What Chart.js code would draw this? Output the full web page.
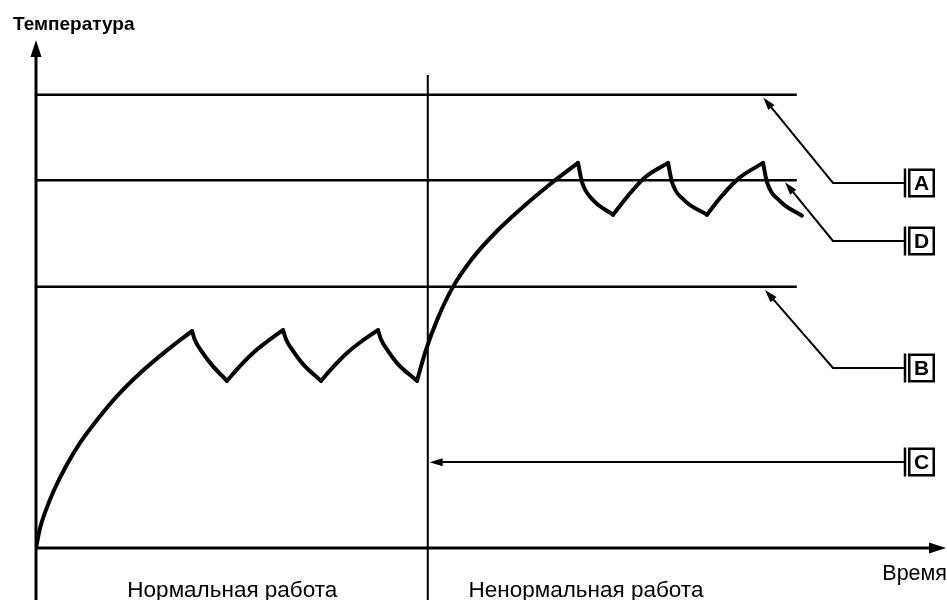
<!DOCTYPE html>
<html>
<head>
<meta charset="utf-8">
<script src="https://cdn.jsdelivr.net/npm/chart.js@4"></script>
<style>
  html, body { margin: 0; padding: 0; background: #fff; }
  #wrap { position: relative; width: 947px; height: 600px; }
</style>
</head>
<body>
<div id="wrap"><canvas id="tempChart"></canvas></div>
<script>
// -----------------------------
// DATA (time 0..100, temperature in arbitrary units)
// -----------------------------
const riseStart = [[0, 0], [0.44, 3.9], [1.10, 7.5], [2.09, 11.8], [3.30, 16.1], [4.84, 20.7], [6.71, 25.2], [8.91, 29.9], [11.44, 34.4], [14.19, 38.6], [17.16, 42.7]];
const fall1 = [[17.16, 42.7], [17.49, 40.9], [18.26, 38.6], [19.36, 36.0], [21.01, 32.9]];
const rise2 = [[21.01, 32.9], [22.33, 35.6], [23.76, 38.2], [25.41, 40.6], [27.17, 42.9]];
const fall2 = [[27.17, 42.9], [27.50, 41.1], [28.27, 38.8], [29.37, 36.2], [31.35, 32.9]];
const rise3 = [[31.35, 32.9], [32.67, 35.6], [34.10, 38.2], [35.75, 40.6], [37.62, 42.9]];
const fall3 = [[37.62, 42.9], [37.95, 41.1], [38.72, 38.8], [39.82, 36.2], [41.91, 32.9]];
const riseAbnormal = [[41.91, 32.9], [42.90, 39.0], [44.22, 45.3], [45.87, 51.4], [47.96, 56.9], [50.61, 62.2], [53.69, 67.3], [56.55, 71.6], [59.63, 75.8]];
const fall4 = [[59.63, 75.8], [60.07, 72.0], [61.17, 68.7], [63.48, 65.6]];
const rise5 = [[63.48, 65.6], [65.02, 69.1], [66.89, 72.8], [69.53, 75.8]];
const fall5 = [[69.53, 75.8], [69.97, 72.0], [71.29, 68.5], [73.82, 65.6]];
const rise6 = [[73.82, 65.6], [75.25, 68.9], [77.34, 72.8], [79.98, 75.8]];
const fall6 = [[79.98, 75.8], [80.42, 72.0], [81.85, 68.3], [84.27, 65.4]];

const curveSegments = [riseStart, fall1, rise2, fall2, rise3, fall3, riseAbnormal, fall4, rise5, fall5, rise6, fall6];

const levelNames = ['A', 'D', 'B'];
const levelTemps = [89.2, 72.4, 51.4];
const levelEndTime = 83.7;
const switchTime = 43.1;          // C: start of abnormal operation
const switchTop = 93.1;

// callout arrow tips [time, temperature]
const calloutNames = ['A', 'D', 'B', 'C'];
const calloutTips = [[80.0, 88.7], [82.4, 72.0], [80.2, 50.8], [43.3, 16.9]];

const axisYLabel = 'Температура';
const axisXLabel = 'Время';
const phaseLabels = ['Нормальная работа', 'Ненормальная работа'];
const phaseCenters = [21.6, 60.5];

const yMin = -10.24, yMax = 107.87;

// -----------------------------
// DATASETS
// -----------------------------
const toPts = arr => arr.map(p => ({ x: p[0], y: p[1] }));

const datasets = [];

levelTemps.forEach((t, i) => {
    datasets.push({
        label: levelNames[i],
        data: [{ x: 0, y: t }, { x: levelEndTime, y: t }],
        borderColor: '#000',
        borderWidth: 2.5,
        pointRadius: 0,
        tension: 0
    });
});

datasets.push({
    label: 'C',
    data: [{ x: switchTime, y: yMin }, { x: switchTime, y: switchTop }],
    borderColor: '#000',
    borderWidth: 2,
    pointRadius: 0,
    tension: 0
});

curveSegments.forEach((seg, i) => {
    datasets.push({
        label: 'curve' + i,
        data: toPts(seg),
        borderColor: '#000',
        borderWidth: 4,
        pointRadius: 0,
        cubicInterpolationMode: 'monotone',
        borderCapStyle: 'round',
        borderJoinStyle: 'round'
    });
});

// -----------------------------
// DRAW HELPERS
// -----------------------------
function arrowHead(ctx, x1, y1, x2, y2, len, half) {
    const a = Math.atan2(y2 - y1, x2 - x1);
    ctx.beginPath();
    ctx.moveTo(x2, y2);
    ctx.lineTo(x2 - len * Math.cos(a) + half * Math.sin(a), y2 - len * Math.sin(a) - half * Math.cos(a));
    ctx.lineTo(x2 - len * Math.cos(a) - half * Math.sin(a), y2 - len * Math.sin(a) + half * Math.cos(a));
    ctx.closePath();
    ctx.fill();
}

const axesPlugin = {
    id: 'axesPlugin',
    beforeDatasetsDraw(chart) {
        const { ctx, scales: { x, y } } = chart;
        const ox = x.getPixelForValue(0), oy = y.getPixelForValue(0);
        ctx.save();
        ctx.strokeStyle = '#000';
        ctx.fillStyle = '#000';
        ctx.lineWidth = 3;
        // y axis
        ctx.beginPath();
        ctx.moveTo(ox, chart.height);
        ctx.lineTo(ox, 50);
        ctx.stroke();
        arrowHead(ctx, ox, 100, ox, 40, 17, 5.5);
        // x axis
        ctx.beginPath();
        ctx.moveTo(ox, oy);
        ctx.lineTo(935, oy);
        ctx.stroke();
        arrowHead(ctx, 800, oy, 946, oy, 17, 5.5);
        ctx.restore();
    },
    afterDatasetsDraw(chart) {
        const { ctx, scales: { x, y } } = chart;
        ctx.save();
        ctx.strokeStyle = '#000';
        ctx.fillStyle = '#000';

        // callouts
        const elbowX = 833, tickX = 905, boxX = 908, boxW = 27, boxH = 29;
        const rowY = [183, 241, 368, 462];
        calloutNames.forEach((name, i) => {
            const tx = x.getPixelForValue(calloutTips[i][0]);
            const ty = y.getPixelForValue(calloutTips[i][1]);
            const ry = rowY[i];
            ctx.lineWidth = 2;
            ctx.beginPath();
            if (name === 'C') {
                ctx.moveTo(tickX, ry);
                ctx.lineTo(tx + 8, ry);
            } else {
                ctx.moveTo(tickX, ry);
                ctx.lineTo(elbowX, ry);
                const a = Math.atan2(ty - ry, tx - elbowX);
                ctx.lineTo(tx - 8 * Math.cos(a), ty - 8 * Math.sin(a));
            }
            ctx.stroke();
            if (name === 'C') arrowHead(ctx, tickX, ry, tx, ty, 13, 4);
            else arrowHead(ctx, elbowX, ry, tx, ty, 13, 4);

            // tick + box
            ctx.lineWidth = 2.5;
            ctx.beginPath();
            ctx.moveTo(tickX, ry - boxH / 2);
            ctx.lineTo(tickX, ry + boxH / 2);
            ctx.stroke();
            ctx.lineWidth = 2.5;
            ctx.strokeRect(boxX + 1.25, ry - boxH / 2 + 1.25, boxW - 2.5, boxH - 2.5);
            ctx.font = 'bold 21px "Liberation Sans", Arial, sans-serif';
            ctx.textAlign = 'center';
            ctx.textBaseline = 'middle';
            ctx.fillText(name, boxX + boxW / 2, ry + 1);
        });

        // texts
        ctx.textBaseline = 'alphabetic';
        ctx.textAlign = 'left';
        ctx.font = 'bold 19px "Liberation Sans", Arial, sans-serif';
        ctx.fillText(axisYLabel, 13, 30);
        ctx.textAlign = 'right';
        ctx.font = '21.5px "Liberation Sans", Arial, sans-serif';
        ctx.fillText(axisXLabel, 947, 580);
        ctx.textAlign = 'center';
        ctx.font = '22.5px "Liberation Sans", Arial, sans-serif';
        phaseLabels.forEach((lab, i) => {
            ctx.fillText(lab, x.getPixelForValue(phaseCenters[i]), 597);
        });
        ctx.restore();
    }
};

// -----------------------------
// CHART
// -----------------------------
new Chart(document.getElementById('tempChart').getContext('2d'), {
    type: 'line',
    data: { datasets },
    options: {
        responsive: true,
        maintainAspectRatio: false,
        animation: false,
        devicePixelRatio: 1,
        layout: { padding: { left: 36, right: 2, top: 0, bottom: 0 } },
        plugins: { legend: { display: false }, tooltip: { enabled: false } },
        scales: {
            x: { type: 'linear', min: 0, max: 100, display: false },
            y: { type: 'linear', min: yMin, max: yMax, display: false }
        }
    },
    plugins: [axesPlugin]
});
</script>
</body>
</html>
